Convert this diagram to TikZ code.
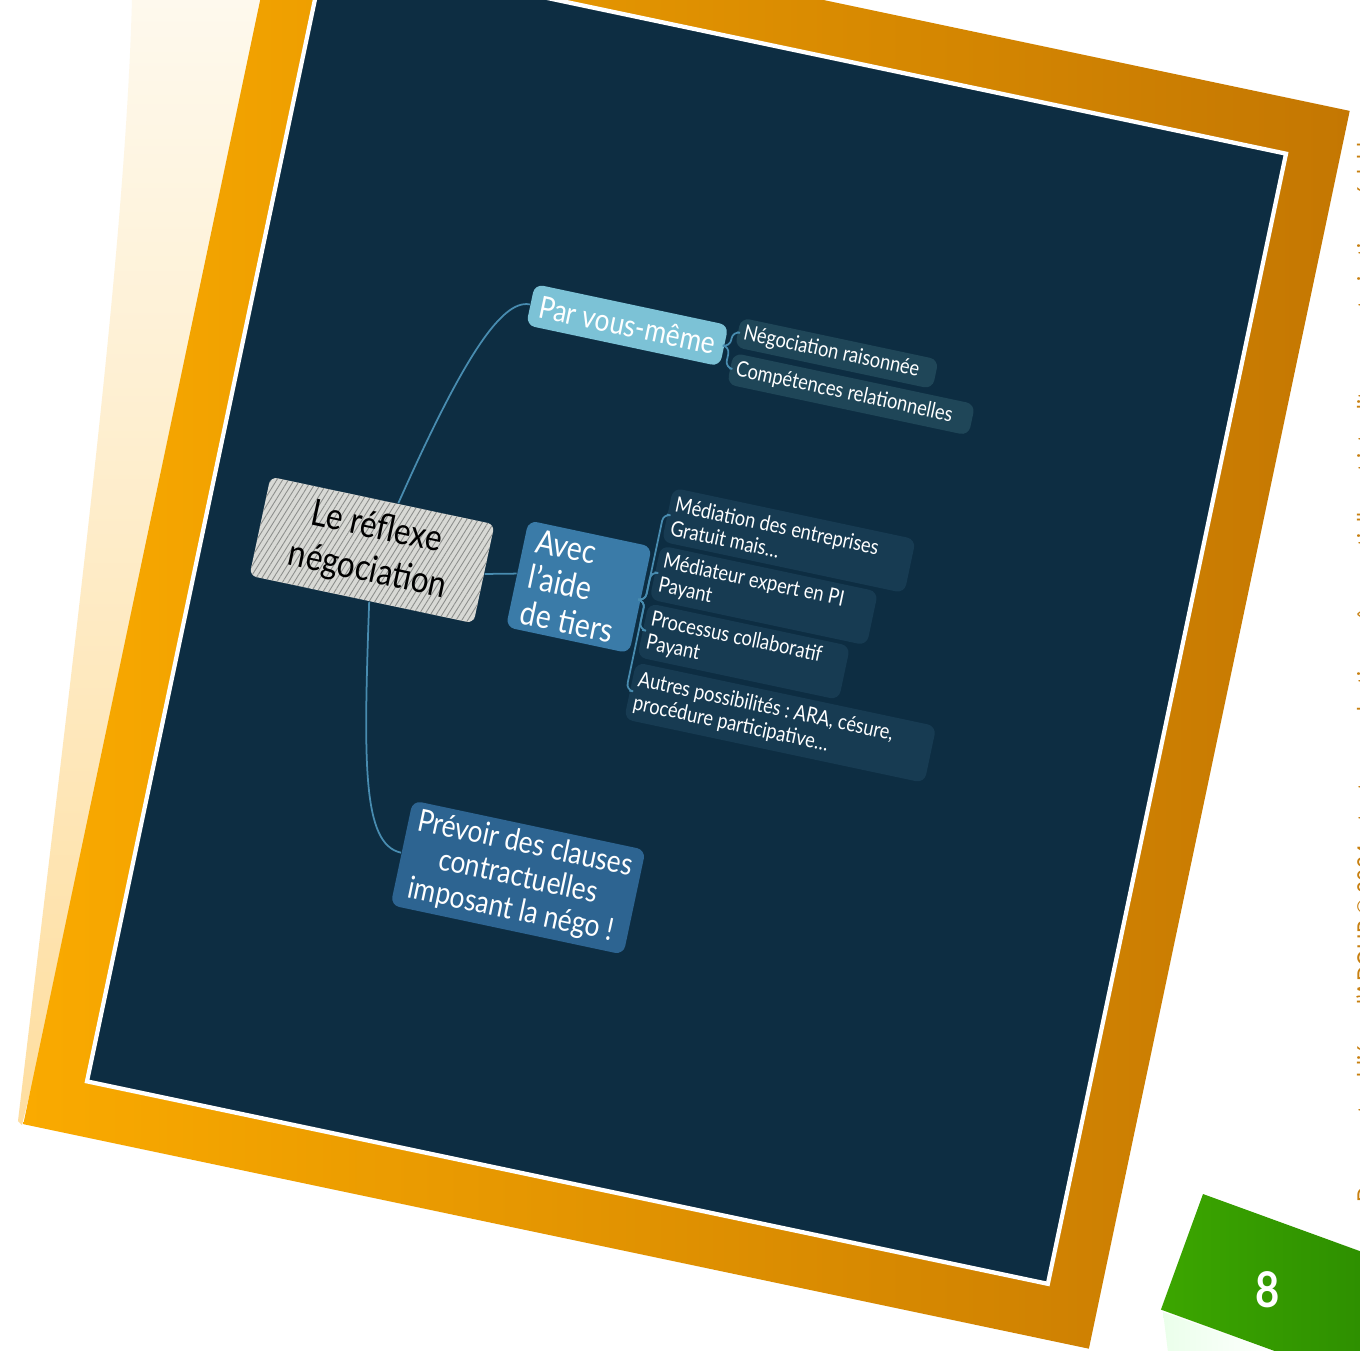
\documentclass[tikz,border=0pt]{standalone}
\usepackage{fontspec}
\setmainfont{Lato}[FakeStretch=0.85]
\usetikzlibrary{patterns.meta}
\newcommand\esp{\kern0.22em}
\definecolor{fond}{RGB}{13,45,66}
\definecolor{orangeA}{RGB}{250,170,0}
\definecolor{orangeB}{RGB}{196,119,2}
\definecolor{cremeA}{RGB}{254,249,237}
\definecolor{cremeB}{RGB}{254,222,160}
\definecolor{vertA}{RGB}{60,166,0}
\definecolor{vertB}{RGB}{36,128,0}
\definecolor{marge}{RGB}{200,128,16}
\definecolor{gris}{RGB}{216,217,213}
\definecolor{hachure}{RGB}{140,142,140}
\definecolor{clair}{RGB}{124,194,214}
\definecolor{moyen}{RGB}{58,123,168}
\definecolor{fonce}{RGB}{45,100,145}
\definecolor{feuilleA}{RGB}{31,70,88}
\definecolor{feuilleB}{RGB}{23,59,82}
\definecolor{lien}{RGB}{72,140,176}

\begin{document}
\begin{tikzpicture}[
  carte/.style={rounded corners=2.5pt, text=white, inner sep=0pt},
  racine/.style={fill=gris, rounded corners=2pt, minimum width=2.29cm, minimum height=0.98cm, align=center,
    font=\fontsize{10.5}{12.5}\selectfont,
    postaction={pattern={Lines[angle=58,distance=1.4pt,line width=0.25pt]}, pattern color=hachure}},
  branche/.style={carte, font=\fontsize{8.8}{9.6}\selectfont},
  feuille/.style={carte, anchor=west, align=left, inner xsep=0.06cm, font=\fontsize{6.1}{6.8}\selectfont},
  lien/.style={draw=lien, line width=0.5pt},
  accolade/.style={lien, rounded corners=2pt},
]
\useasboundingbox (0,0) rectangle (13.6,-13.5);
\clip (0,0) rectangle (13.6,-13.5);
\fill[white] (0,0) rectangle (13.6,-13.5);
\shade[top color=cremeA, bottom color=cremeB] (1.32,0) -- (3.0,0) -- (0.22,-11.25) -- (0.18,-11.21)
  .. controls (0.8,-6) and (1.25,-2.5) .. cycle;

\begin{scope}[shift={(6.865,-6.175)}, rotate=-11.9]
\shade[left color=orangeA, right color=orangeB] (-5.445,-6.325) rectangle (5.445,6.325);
\filldraw[fill=fond, draw=white, line width=1.2pt] (-4.91,-5.775) rectangle (4.91,5.775);
\end{scope}

\begin{scope}[shift={(3.72,-5.50)}, rotate=-12, transform shape]
\node (1)[racine] at (0,0) {Le\esp réflexe\\négociation};
\node (2)[branche, fill=clair, minimum width=1.98cm, minimum height=0.42cm] at (2.03,2.73) {Par\esp vous-même};
\node (3)[branche, fill=moyen, text width=1.02cm, inner xsep=0.12cm, minimum height=1.09cm, align=left,
  font=\fontsize{9.5}{10.4}\selectfont] at (2.10,0.07) {Avec\\l’aide\\de\esp tiers};
\node (4)[branche, fill=fonce, minimum width=2.38cm, minimum height=1.07cm, align=center] at (2.11,-2.90)
  {Prévoir\esp des\esp clauses\\contractuelles\\imposant\esp la\esp négo\esp !};
\node (5)[feuille, fill=feuilleA, text width=1.90cm, minimum height=0.30cm] at (3.12,2.89) {Négociation\esp raisonnée};
\node (6)[feuille, fill=feuilleA, text width=2.35cm, minimum height=0.32cm] at (3.12,2.52) {Compétences\esp relationnelles};
\node (7)[feuille, fill=feuilleB, text width=2.36cm, minimum height=0.55cm] at (2.81,0.96) {Médiation\esp des\esp entreprises\\Gratuit\esp mais…};
\node (8)[feuille, fill=feuilleB, text width=2.10cm, minimum height=0.55cm] at (2.81,0.37) {Médiateur\esp expert\esp en\esp PI\\Payant};
\node (9)[feuille, fill=feuilleB, text width=1.94cm, minimum height=0.55cm] at (2.81,-0.22) {Processus\esp collaboratif\\Payant};
\node (10)[feuille, fill=feuilleB, text width=2.95cm, minimum height=0.58cm] at (2.81,-0.84) {Autres\esp possibilités\esp :\esp ARA,\esp césure,\\procédure\esp participative…};
\draw[lien] ([xshift=0.16cm]1.north) .. controls +(78:1.5) and +(180:0.3) .. (2.west);
\draw[lien] (1.east) -- (3.west);
\draw[lien] ([xshift=0.08cm]1.south) .. controls +(-80:1.6) and +(180:0.4) .. (4.west);
\draw[accolade] (2.east) -- ++(0.05,0) |- (5.west);
\draw[accolade] (2.east) -- ++(0.05,0) |- (6.west);
\draw[accolade] (3.east) -- ++(0.04,0) |- (7.west);
\draw[accolade] (3.east) -- ++(0.04,0) |- (8.west);
\draw[accolade] (3.east) -- ++(0.04,0) |- (9.west);
\draw[accolade] (3.east) -- ++(0.04,0) |- (10.west);
\end{scope}

\node (11)[rotate=90, anchor=base west, text=marge, font=\fontsize{7}{8}\selectfont] at (13.75,-12.15)
  {Document publié par l’ADOUP © 2024 – toute reproduction, même partielle, est interdite sans autorisation préalable};

\shade[left color=green!8!white, right color=white] (11.63,-13.12) -- (12.75,-13.52) -- (11.68,-13.52) -- cycle;
\begin{scope}[shift={(12.03,-11.94)}, rotate=-20]
\shade[left color=vertA, right color=vertB] (0,0) rectangle (3.2,-1.23);
\end{scope}
\node (12)[text=white, font=\bfseries\fontsize{14}{14}\selectfont] at (12.68,-12.90) {8};
\end{tikzpicture}
\end{document}
